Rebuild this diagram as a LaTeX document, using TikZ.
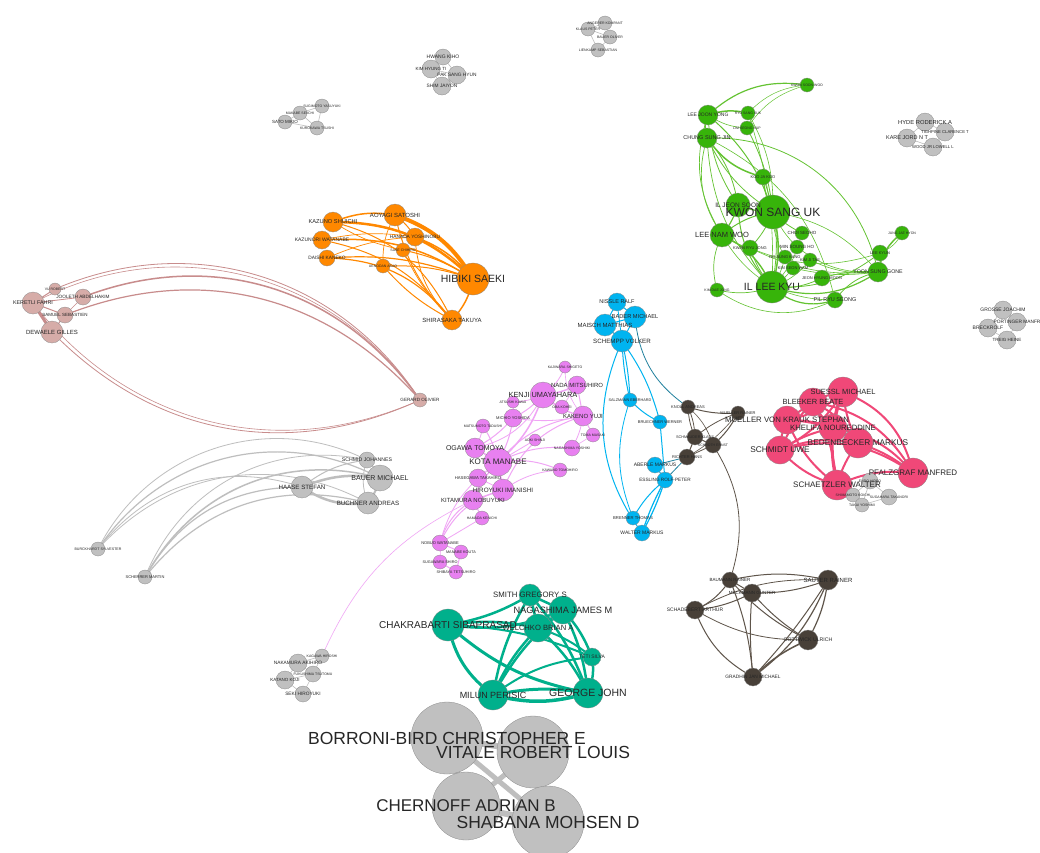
\documentclass[tikz,border=0pt]{standalone}
\usepackage{fontspec}
\setmainfont{Liberation Sans}
\pgfdeclarelayer{bg}
\pgfdeclarelayer{edges}
\pgfdeclarelayer{labels}
\pgfsetlayers{bg,edges,main,labels}
\definecolor{cgreen}{RGB}{55,180,10}
\definecolor{cgreenE}{RGB}{100,195,50}
\definecolor{corange}{RGB}{255,136,0}
\definecolor{crosy}{RGB}{214,172,168}
\definecolor{crosyE}{RGB}{200,140,140}
\definecolor{cgray}{RGB}{192,192,192}
\definecolor{cgrayE}{RGB}{190,190,190}
\definecolor{cblue}{RGB}{0,180,240}
\definecolor{cviolet}{RGB}{232,128,240}
\definecolor{cvioletE}{RGB}{240,165,245}
\definecolor{cbrown}{RGB}{72,64,56}
\definecolor{cbrownE}{RGB}{95,85,75}
\definecolor{cpink}{RGB}{240,72,120}
\definecolor{cteal}{RGB}{0,176,140}
\tikzset{
  vnode/.style={circle,draw=black!45,line width=0.3pt,inner sep=0pt},
  vlab/.style={text=black!85,inner sep=0pt},
  vb/.style={bend right=#1},
}
\newcommand{\addnode}[7]{%
  \node[vnode,fill=#5,minimum size=#4*2pt] (#1) at (#2,#3) {};%
  \begin{pgfonlayer}{labels}%
  \node[vlab,font=\fontsize{#6pt}{#6pt}\selectfont] (#1-l) at (#1.center) {#7};%
  \end{pgfonlayer}}
\newcommand{\addedges}[2]{%
  \begin{pgfonlayer}{edges}%
  \foreach \a/\b/\w/\c in {#2}{\draw[#1,line width=\w pt] (\a.center) to[vb=\c] (\b.center);}%
  \end{pgfonlayer}}
\begin{document}
\begin{tikzpicture}[x=1pt,y=-1pt]
\begin{pgfonlayer}{bg}
\fill[white] (0,0) rectangle (1040,852);
\end{pgfonlayer}
\useasboundingbox (0,0) rectangle (1040,852);

% ---- top-left gray
\addnode{c1}{322}{106}{7}{cgray}{3.5}{SUGIMOTO YASUYUKI}
\addnode{c2}{300}{113}{7}{cgray}{3.5}{MAKABE SEIICHI}
\addnode{c3}{285}{122}{7}{cgray}{4.5}{SATO MIKIO}
\addnode{c4}{317}{128}{7}{cgray}{3.5}{KUROKAWA TSUSHI}
\addedges{cgrayE}{c1/c2/0.6/0,c2/c3/0.6/0,c2/c4/0.6/0,c3/c4/0.6/0,c1/c4/0.6/0}
% ---- top-center gray
\addnode{h1}{443}{57}{8}{cgray}{5}{HWANG KIHO}
\addnode{h2}{431}{69}{9}{cgray}{4.5}{KIM HYUNG TI}
\addnode{h3}{457}{75}{9}{cgray}{4.8}{PAK SANG HYUN}
\addnode{h4}{442}{86}{9}{cgray}{4.8}{SHIM JAIYON}
\addedges{cgrayE}{h1/h2/0.6/0,h1/h3/0.6/0,h2/h3/0.6/0,h2/h4/0.6/0,h3/h4/0.6/0}
% ---- top-right gray
\addnode{a1}{605}{23}{7}{cgray}{3.5}{ANGERER KOMPANT}
\addnode{a2}{588}{29}{7}{cgray}{3.5}{KLAUS PETER}
\addnode{a3}{610}{37}{7}{cgray}{3.5}{BAUER OLIVER}
\addnode{a4}{598}{50}{7}{cgray}{3.5}{LIENKAMP SEBASTIAN}
\addedges{cgrayE}{a1/a2/0.6/0,a2/a3/0.6/0,a2/a4/0.6/0,a3/a4/0.6/0}
% ---- Hyde gray
\addnode{d1}{925}{122}{9}{cgray}{5.8}{HYDE RODERICK A}
\addnode{d2}{907}{138}{9}{cgray}{5.5}{KARE JORD N T}
\addnode{d3}{945}{132}{9}{cgray}{4.2}{TIGHPINE CLARENCE T}
\addnode{d4}{933}{147}{9}{cgray}{4.2}{WOOD JR LOWELL L}
\addedges{cgrayE}{d1/d2/0.6/0,d1/d3/0.6/0,d2/d4/0.6/0,d3/d4/0.6/0}
% ---- Grosse gray
\addnode{e1}{1003}{310}{9}{cgray}{5}{GROSSE JOACHIM}
\addnode{e2}{1017}{322}{9}{cgray}{4.8}{PORTINGER MANFR}
\addnode{e3}{988}{328}{9}{cgray}{5}{BRECKROLF}
\addnode{e4}{1007}{340}{9}{cgray}{4.5}{TREIG HEINE}
\addedges{cgrayE}{e1/e2/0.6/0,e1/e3/0.6/0,e2/e4/0.6/0,e3/e4/0.6/0}

% ---- green
\addnode{g1}{807}{85}{7}{cgreen}{3.5}{KWON SOON WOO}
\addnode{g2}{708}{115}{10}{cgreen}{5}{LEE JOON YONG}
\addnode{g3}{748}{113}{7}{cgreen}{3.5}{RYU SANG SUK}
\addnode{g4}{747}{128}{7}{cgreen}{3.5}{LIM SEONG SUP}
\addnode{g5}{707}{138}{10}{cgreen}{5.5}{CHUNG SUNG JIN}
\addnode{g6}{763}{177}{8}{cgreen}{4}{KOO JA KOO}
\addnode{g7}{738}{205}{12}{cgreen}{6.5}{IL JEON SOON}
\addnode{g8}{773}{212}{17}{cgreen}{12}{KWON SANG UK}
\addnode{g9}{722}{235}{12}{cgreen}{7.5}{LEE NAM WOO}
\addnode{g10}{802}{233}{7}{cgreen}{4.5}{CHOI SEOHO}
\addnode{g11}{750}{248}{8}{cgreen}{4}{KWAN RYU JONG}
\addnode{g12}{797}{247}{7}{cgreen}{4.5}{MIN SOUNG HO}
\addnode{g13}{785}{257}{7}{cgreen}{4}{HO SUNG KANG}
\addnode{g14}{810}{260}{7}{cgreen}{4}{KIM JI TAE}
\addnode{g15}{793}{268}{7}{cgreen}{4}{KIM SEON WAM}
\addnode{g16}{822}{278}{8}{cgreen}{4}{JEON HYUNG MOON}
\addnode{g17}{772}{287}{16}{cgreen}{10.5}{IL LEE KYU}
\addnode{g18}{717}{290}{7}{cgreen}{3.5}{KIM DAE JONG}
\addnode{g19}{835}{300}{8}{cgreen}{5.5}{PIL RYU SEONG}
\addnode{g20}{878}{272}{10}{cgreen}{5.3}{YOON SUNG GONE}
\addnode{g21}{880}{253}{8}{cgreen}{4}{LEE KYUN}
\addnode{g22}{902}{233}{7}{cgreen}{3.5}{JUNG JAE HYON}
\addedges{cgreenE}{g2/g1/1.2/-25,g3/g1/0.5/-20,g4/g1/0.5/-20,g2/g3/1.5/-15,g2/g4/0.6/15,g2/g5/1.2/20,g2/g7/0.8/15,g2/g8/1/-15,g2/g9/0.7/25,g3/g8/0.6/-15,g4/g8/0.8/-10,g5/g6/1.5/20,g5/g7/0.8/-15,g5/g8/0.8/15,g5/g9/0.7/25,g5/g17/0.7/20,g5/g20/0.8/-40,g5/g19/0.6/-25,g6/g8/1.2/10,g6/g17/0.8/-15,g7/g8/1.2/10,g7/g9/1.2/-10,g7/g17/1/20,g8/g9/1/15,g8/g17/1.5/-15,g8/g10/0.8/10,g8/g11/0.8/-10,g8/g12/0.6/10,g8/g13/0.6/15,g8/g20/0.6/-20,g9/g17/1.4/-20,g9/g11/0.8/10,g9/g18/0.7/20,g9/g19/0.6/30,g17/g18/0.7/-15,g17/g19/1.2/30,g17/g20/1.2/25,g17/g21/0.8/20,g17/g16/0.8/15,g17/g15/0.6/10,g17/g14/0.6/15,g18/g19/0.6/30,g19/g20/0.8/-20,g20/g21/0.8/10,g20/g22/1.5/-20,g21/g22/0.6/20,g16/g20/0.8/-10,g14/g20/0.6/15,g12/g20/0.6/20,g11/g20/0.6/15,g10/g17/0.6/-15,g11/g17/0.8/10,g13/g17/0.6/-10,g15/g20/0.6/10,g11/g21/0.6/20,g3/g17/0.6/-10}

% ---- orange
\addnode{o1}{395}{215}{11}{corange}{6}{AOYAGI SATOSHI}
\addnode{o2}{333}{222}{10}{corange}{5.7}{KAZUNO SHUICHI}
\addnode{o3}{415}{237}{9}{corange}{4.8}{HANADA YOSHINOBU}
\addnode{o4}{322}{240}{9}{corange}{5}{KAZUNORI WATANABE}
\addnode{o5}{403}{250}{7}{corange}{3.5}{SASE CHIHIRO}
\addnode{o6}{327}{258}{8}{corange}{4.8}{DAISHI KANEKO}
\addnode{o7}{383}{266}{7}{corange}{3.5}{UENODAN ASAO}
\addnode{o8}{473}{279}{16}{corange}{10.5}{HIBIKI SAEKI}
\addnode{o9}{452}{320}{10}{corange}{6}{SHIRASAKA TAKUYA}
\addedges{corange}{o1/o8/4/-20,o2/o8/2.5/-22,o3/o8/1.5/-15,o4/o8/1.5/-18,o5/o8/1/-10,o6/o8/1.2/-12,o7/o8/1/-10,o2/o1/1.5/-15,o1/o3/1/-10,o1/o9/1/15,o2/o9/1/-25,o3/o9/0.8/20,o4/o9/1/-20,o6/o9/1.2/-25,o7/o9/1/10,o8/o9/1.5/-15,o4/o3/0.7/-10,o6/o3/0.7/-10,o2/o5/0.7/10,o5/o9/0.7/10,o1/o7/0.7/15}

% ---- rosy
\addnode{r1}{55}{289}{6}{crosy}{3.5}{VU ROBERT}
\addnode{r2}{83}{297}{8}{crosy}{4.7}{JOOLETH ABDELHAKIM}
\addnode{r3}{33}{303}{11}{crosy}{5.4}{KERETLI FAHRI}
\addnode{r4}{65}{315}{8}{crosy}{4.5}{SAMUEL SEBASTIEN}
\addnode{r5}{52}{332}{11}{crosy}{6}{DEWAELE GILLES}
\addnode{r6}{420}{400}{7}{crosy}{4.6}{GERARD OLIVIER}
\addedges{crosyE}{r3/r5/3/0,r3/r1/1/0,r3/r2/0.8/0,r3/r4/1/0,r4/r5/1/0,r2/r4/0.6/0,r1/r6/0.8/-40,r2/r6/1.5/-38,r4/r6/1.2/-35,r3/r6/0.6/-42,r6/r5/0.8/-35,r6/r3/0.6/-38}

% ---- gray s
\addnode{s1}{367}{460}{8}{cgray}{5.2}{SCHMID JOHANNES}
\addnode{s2}{380}{478}{13}{cgray}{7}{BAUER MICHAEL}
\addnode{s3}{302}{487}{11}{cgray}{6.2}{HAASE STEFAN}
\addnode{s4}{368}{503}{11}{cgray}{6.2}{BUCHNER ANDREAS}
\addnode{s5}{98}{549}{7}{cgray}{3.6}{BURCKHARDT SYLVESTER}
\addnode{s6}{145}{577}{7}{cgray}{4}{SCHERRER MARTIN}
\addedges{cgrayE}{s3/s2/2.5/-15,s3/s4/2.5/20,s2/s4/2/-10,s1/s2/1/-10,s3/s1/1/-15,s1/s4/0.8/20,s5/s1/0.8/-45,s5/s2/1.2/-42,s5/s3/0.8/-35,s5/s4/0.8/-38,s6/s1/0.8/-40,s6/s2/1.5/-38,s6/s3/1.2/-30,s6/s4/1.2/-33}

% ---- blue
\addnode{b1}{617}{302}{9}{cblue}{5.5}{NISSLE RALF}
\addnode{b2}{635}{317}{11}{cblue}{5.7}{BADER MICHAEL}
\addnode{b3}{605}{325}{11}{cblue}{6}{MAISCH MATTHIAS}
\addnode{b4}{622}{341}{11}{cblue}{6.2}{SCHEMPP VOLKER}
\addnode{b5}{630}{400}{7}{cblue}{3.8}{SALZMANN EBERHARD}
\addnode{b6}{660}{422}{7}{cblue}{4}{BRUECHNER WERNER}
\addnode{b7}{655}{465}{8}{cblue}{5}{ABERLE MARKUS}
\addnode{b8}{665}{480}{8}{cblue}{4.7}{ESSLING ROLF-PETER}
\addnode{b9}{633}{518}{7}{cblue}{4.2}{BRENNER THOMAS}
\addnode{b10}{642}{533}{8}{cblue}{5}{WALTER MARKUS}
\addedges{cblue}{b1/b2/1/0,b1/b3/1/0,b2/b3/1/0,b2/b4/1/0,b3/b4/1/0,b1/b4/0.8/0,b4/b5/1/5,b4/b5/1/-5,b4/b6/1/-10,b5/b6/1/10,b10/b4/1/-30,b9/b5/0.8/-20,b6/b8/1/0,b8/b10/1.2/5,b8/b10/1.2/-5,b7/b8/1/0,b8/b9/1/10}

% ---- brown top
\addnode{k1}{688}{407}{7}{cbrown}{4}{KNOLL ANDREAS}
\addnode{k2}{738}{413}{7}{cbrown}{4}{MUELLER RAINER}
\addnode{k3}{695}{437}{8}{cbrown}{3.8}{SCHMAUDER KLAUS}
\addnode{k4}{687}{457}{8}{cbrown}{4}{RICHTER HANS}
\addnode{k5}{713}{445}{8}{cbrown}{3.5}{SCHROTH ERNST}
\addedges{cbrownE}{k1/k3/0.8/10,k1/k3/0.8/-10,k1/k2/1/10,k3/k5/1/0,k3/k4/1/0,k2/k5/1/-10,k2/k3/0.8/10,k4/k5/0.8/0,k1/k5/0.6/-15,k2/k4/0.6/-10}
\addedges{cblue!55!cbrown}{b2/k1/0.8/25,b7/k4/0.8/0,b8/k4/0.8/0}

% ---- brown lower
\addnode{m1}{730}{580}{8}{cbrown}{4.5}{BAUMANN RAINER}
\addnode{m2}{752}{593}{9}{cbrown}{4.5}{MECKMANN GUNTER}
\addnode{m3}{828}{580}{10}{cbrown}{6}{SAUTER RAINER}
\addnode{m4}{695}{610}{9}{cbrown}{5}{SCHADEBERT ARTHUR}
\addnode{m5}{808}{640}{10}{cbrown}{5.2}{GOTTWICK ULRICH}
\addnode{m6}{753}{677}{9}{cbrown}{4.8}{GRADHIN JAN MICHAEL}
\addedges{cbrownE}{k5/m1/0.8/-25,m1/m2/1/0,m1/m3/1/-12,m1/m4/1/-15,m1/m5/1/10,m1/m6/1/-8,m2/m3/1/10,m2/m4/1/-10,m2/m5/1/8,m2/m6/1/5,m3/m5/1.2/-10,m3/m6/1.2/-15,m4/m6/1/20,m4/m5/0.8/15,m5/m6/1.5/10,m4/m3/0.8/-15,m3/m6/1/-5}

% ---- pink
\addnode{p1}{843}{392}{15}{cpink}{7.5}{SUESSL MICHAEL}
\addnode{p2}{813}{402}{14}{cpink}{7.5}{BLEEKER BEATE}
\addnode{p3}{787}{420}{14}{cpink}{7.8}{MUELLER VON KRAUK STEPHAN}
\addnode{p4}{833}{428}{14}{cpink}{7.7}{KHELIFA NOUREDDINE}
\addnode{p5}{780}{450}{14}{cpink}{8.3}{SCHMIDT UWE}
\addnode{p6}{858}{443}{15}{cpink}{8.3}{BEDENBECKER MARKUS}
\addnode{p7}{913}{473}{15}{cpink}{8}{PFALZGRAF MANFRED}
\addnode{p8}{837}{485}{15}{cpink}{8}{SCHAETZLER WALTER}
\addedges{cpink}{p1/p2/2/10,p1/p3/2/-15,p1/p4/2/10,p1/p5/2/-15,p1/p6/2/10,p1/p7/2/-28,p1/p8/2/15,p2/p3/2/0,p2/p4/2/10,p2/p5/2/10,p2/p6/2/-15,p2/p7/2/-25,p2/p8/2/-10,p3/p4/2/-10,p3/p5/2/10,p3/p6/2/-15,p3/p8/2/15,p4/p5/2/10,p4/p6/2/-10,p4/p7/2/-20,p4/p8/2/10,p5/p6/2/-15,p5/p8/2/15,p5/p7/2/-25,p6/p7/2/-10,p6/p8/2/10,p8/p7/2/-15}
\addnode{q1}{870}{481}{8}{cgray}{3.5}{ENDO HIDEO}
\addnode{q2}{853}{495}{7}{cgray}{3.5}{SHIMAMOTO KOICHI}
\addnode{q3}{889}{497}{8}{cgray}{3.5}{SUGAHARA TAKANORI}
\addnode{q4}{862}{505}{7}{cgray}{3.5}{TAKAI YOSHIMI}
\addedges{cgrayE}{q1/q2/0.6/0,q1/q3/0.6/0,q2/q4/0.6/0,q3/q4/0.6/0,q1/q4/0.6/0}

% ---- bottom-left gray
\addnode{x1}{322}{656}{7}{cgray}{3.5}{KAGAWA HIROSHI}
\addnode{x2}{298}{663}{9}{cgray}{4.8}{NAKAMURA AKIHIRO}
\addnode{x3}{313}{674}{8}{cgray}{3.5}{FUKUSHIMA TSUTOMU}
\addnode{x4}{285}{680}{9}{cgray}{4.5}{KATANO KOJI}
\addnode{x5}{303}{694}{8}{cgray}{4.8}{SEKI HIROYUKI}
\addedges{cgrayE}{x1/x2/0.6/0,x2/x3/0.6/0,x2/x4/0.6/0,x3/x4/0.6/0,x4/x5/0.6/0,x3/x5/0.6/0,x1/x3/0.6/0}

% ---- violet
\addnode{v1}{565}{367}{6}{cviolet}{3.5}{KAJIWARA SHIGETO}
\addnode{v2}{577}{385}{9}{cviolet}{6}{NADA MITSUHIRO}
\addnode{v3}{543}{395}{13}{cviolet}{7.4}{KENJI UMAYAHARA}
\addnode{v4}{513}{402}{6}{cviolet}{3.5}{ATSUSHI KAWAI}
\addnode{v5}{562}{407}{7}{cviolet}{3.5}{OBA KOHEI}
\addnode{v6}{583}{416}{10}{cviolet}{6}{KAKENO YUJI}
\addnode{v7}{513}{418}{9}{cviolet}{4}{MICHIO YOSHIDA}
\addnode{v8}{483}{426}{7}{cviolet}{3.5}{MATSUMOTO TADASHI}
\addnode{v9}{593}{435}{7}{cviolet}{3.5}{TOMA MASAKI}
\addnode{v10}{535}{440}{6}{cviolet}{3.5}{AOKI SHINJI}
\addnode{v11}{572}{448}{8}{cviolet}{3.5}{NAGASHIMA YOSHIKI}
\addnode{v12}{475}{448}{10}{cviolet}{7}{OGAWA TOMOYA}
\addnode{v13}{498}{462}{14}{cviolet}{8}{KOTA MANABE}
\addnode{v14}{560}{470}{7}{cviolet}{3.5}{KAWANO TOMOHIRO}
\addnode{v15}{478}{478}{9}{cviolet}{4.2}{HASEGAWA TAKAHIRO}
\addnode{v16}{503}{490}{11}{cviolet}{6.3}{HIROYUKI IMANISHI}
\addnode{v17}{473}{500}{10}{cviolet}{6}{KITAMURA NOBUYUKI}
\addnode{v18}{482}{518}{7}{cviolet}{3.5}{HAMADA KENICHI}
\addnode{v19}{440}{543}{8}{cviolet}{4}{NOBUO WATANABE}
\addnode{v20}{461}{552}{7}{cviolet}{3.8}{MANABE KOUTA}
\addnode{v21}{440}{562}{7}{cviolet}{3.8}{SUGAWARA SHIRO}
\addnode{v22}{456}{572}{7}{cviolet}{3.8}{SHIBAYA TETSUHIRO}
\addedges{cvioletE}{v3/v2/1.5/10,v3/v6/1.2/15,v3/v7/1/-10,v3/v13/1.5/-15,v3/v5/0.8/10,v3/v1/0.8/15,v3/v4/0.8/-10,v7/v13/1/-10,v7/v12/1/-10,v8/v13/1/-10,v12/v13/1.5/0,v13/v16/1.5/0,v13/v15/1/0,v13/v17/1.2/10,v13/v6/1/-20,v13/v11/1/-15,v13/v14/1/-15,v6/v2/1/0,v6/v9/1/0,v6/v11/0.8/-10,v10/v13/0.8/0,v16/v17/1.2/0,v15/v16/0.8/0,v17/v18/1/0,v17/v19/1/20,v16/v19/1/25,v15/v19/0.8/15,v19/v20/1/0,v19/v21/1/0,v21/v22/1/0,v20/v22/1/0,v16/v6/1/-25,v7/v6/0.8/10,v4/v7/0.8/0,v8/v12/0.8/-10,v12/v3/0.8/25,v2/v5/0.6/0,v1/v6/0.6/20,v11/v9/0.6/0,v14/v16/0.8/15,v18/v19/0.8/0,v17/x1/0.6/20}

% ---- teal
\addnode{t1}{530}{595}{11}{cteal}{7.8}{SMITH GREGORY S}
\addnode{t2}{563}{610}{14}{cteal}{9.2}{NAGASHIMA JAMES M}
\addnode{t3}{448}{625}{16}{cteal}{10}{CHAKRABARTI SIBAPRASAD}
\addnode{t4}{538}{628}{14}{cteal}{7.6}{WELCHKO BRIAN A}
\addnode{t5}{592}{657}{9}{cteal}{5}{TETI SILVA}
\addnode{t6}{493}{695}{15}{cteal}{9}{MILUN PERISIC}
\addnode{t7}{588}{693}{15}{cteal}{10.5}{GEORGE JOHN}
\addedges{cteal}{t1/t2/2.5/0,t1/t3/2.5/-10,t1/t4/2.5/0,t1/t6/2.5/10,t1/t7/2.5/-10,t2/t3/2.5/-15,t2/t4/2.5/0,t2/t5/2.5/-10,t2/t6/2.5/10,t2/t7/2.5/-10,t3/t4/2.5/-10,t3/t5/2/-10,t3/t6/3/20,t3/t7/3/15,t4/t5/2/-10,t4/t6/2.5/10,t4/t7/2.5/-10,t5/t6/2/15,t5/t7/2.5/-15,t6/t7/3.5/15,t6/t7/3/-10}

% ---- big gray
\addnode{z1}{447}{738}{36}{cgray}{17.5}{BORRONI-BIRD CHRISTOPHER E}
\addnode{z2}{533}{752}{36}{cgray}{17.5}{VITALE ROBERT LOUIS}
\addnode{z3}{466}{806}{34}{cgray}{17}{CHERNOFF ADRIAN B}
\addnode{z4}{548}{822}{36}{cgray}{17.5}{SHABANA MOHSEN D}
\addedges{cgrayE}{z1/z2/6/0,z1/z3/6/0,z2/z4/6/0,z3/z4/6/0,z1/z4/5/0,z2/z3/5/0}
\end{tikzpicture}
\end{document}
